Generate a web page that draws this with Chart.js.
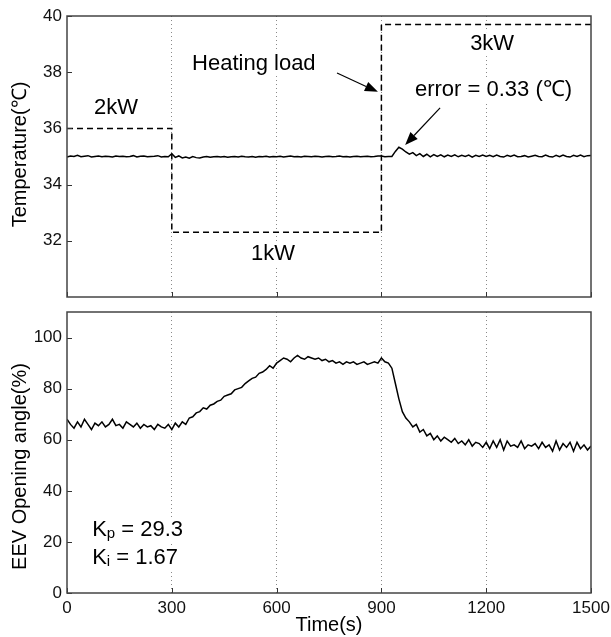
<!DOCTYPE html>
<html>
<head>
<meta charset="utf-8">
<script src="https://cdn.jsdelivr.net/npm/chart.js@4.4.0/dist/chart.umd.min.js"></script>
<style>
  html, body { margin: 0; padding: 0; background: #fff; }
  #wrap { position: relative; width: 611px; height: 637px; }
  #topChart { position: absolute; left: 0; top: 0; }
  #bottomChart { position: absolute; left: 0; top: 305px; }
</style>
</head>
<body>
<div id="wrap">
  <canvas id="topChart" width="611" height="305"></canvas>
  <canvas id="bottomChart" width="611" height="332"></canvas>
</div>
<script>
// sampled every 10 s, t = 0 ... 1500
const sampleStep = 10;

const tempValues = [
  34.98, 35.02, 35.0, 35.04, 34.99, 35.01, 35.03, 34.98, 35.0, 35.02,
  34.99, 35.01, 35.0, 34.98, 35.02, 35.0, 35.01, 34.99, 35.0, 35.03,
  34.98, 35.01, 35.02, 34.99, 35.0, 35.01, 35.03, 34.98, 35.0, 34.99,
  35.1,
  34.97, 35.02, 34.95, 34.98, 34.94, 35.0, 34.96, 34.95, 34.98, 35.0,
  34.97, 34.99, 35.0, 34.98, 35.0, 34.97, 34.99, 35.0, 34.98, 35.01,
  34.99, 34.98, 35.0, 34.97, 35.0, 34.99, 35.01, 34.98, 35.0,
  34.99, 35.01, 34.98, 35.0, 35.02, 34.99, 35.0, 34.98, 35.01, 35.0,
  34.99, 35.01, 35.0, 34.98, 35.0, 35.01, 34.99, 35.0, 35.02, 34.99,
  35.0, 34.98, 35.0, 35.01, 34.99, 35.0, 35.01, 34.99, 35.0, 35.02,
  35.02, 34.99, 35.0, 35.0, 35.18, 35.33, 35.26, 35.16, 35.08, 35.14,
  35.03, 35.1, 35.0, 35.08, 34.99, 35.07, 35.0, 35.06, 34.99, 35.05,
  35.0, 35.06, 34.99, 35.04, 35.0, 35.05, 34.98, 35.04, 35.0, 35.05,
  35.0, 35.04, 34.99, 35.05, 35.0, 34.98, 35.04, 35.0, 35.05, 34.99,
  35.0, 35.03, 34.98, 35.01, 35.04, 35.0, 34.99, 35.05, 35.0, 34.98,
  35.04, 34.99, 35.05, 35.0, 34.98, 35.04, 35.0, 35.05, 34.99, 35.03,
  35.04
];

const eevValues = [
  68, 66, 64.5, 67, 65, 68, 66, 64, 66.5, 65.5,
  67, 65, 66, 68, 65.5, 66, 64.5, 67, 66, 65,
  66.5, 64.5, 66, 65, 65.5, 64, 66, 65, 64.5, 66,
  64,
  66.5, 65, 67, 66, 68.5, 69, 70.5, 71, 72.5, 72,
  73.5, 74, 75, 75.5, 77, 77.5, 78, 79.5, 80, 80.5,
  82, 83, 84, 84.5, 86, 86.5, 87.5, 89, 88, 90,
  91, 92, 91.5, 90.5, 92, 93, 92, 91.5, 92.5, 92,
  91.5, 92, 91, 91.5, 90.5, 91, 90, 90.5, 89.5, 90.5,
  90, 90.5, 89.5, 90, 90.5, 89.5, 90, 90.5, 90, 92,
  90.5, 90, 88, 82, 76, 71, 68.5, 67, 65, 66,
  63, 64, 61.5, 62.5, 60, 61.5, 59.5, 61, 60, 59,
  60.5, 58.5, 59.5, 58, 60, 57.5, 59, 58.5, 57, 59,
  56.5, 59.5, 57, 60, 56, 59.5, 57.5, 58, 57, 59.5,
  56.5, 58, 57.5, 58.5, 56.5, 59, 57, 58, 55.5, 59.5,
  56, 58.5, 57, 59, 55.5, 59, 56.5, 58, 56, 57.5
];

// heating load step (drawn on the temperature axis)
const loadTimes = [0, 300, 300, 900, 900, 1500];
const loadValues = [36, 36, 32.3, 32.3, 39.7, 39.7];

const timeTicks = [0, 300, 600, 900, 1200, 1500];
const tempTicks = [32, 34, 36, 38, 40];
const eevTicks = [0, 20, 40, 60, 80, 100];

const FONT = "'Liberation Sans', Arial, sans-serif";

const times = eevValues.map((_, i) => i * sampleStep);
const toXY = (xs, ys) => xs.map((x, i) => ({ x: x, y: ys[i] }));

function setTicks(list) {
  return axis => { axis.ticks = list.map(v => ({ value: v })); };
}

function gridColor(c) {
  const v = c.tick && c.tick.value;
  return (v > 0 && v < 1500) ? '#8a8a8a' : 'rgba(0,0,0,0)';
}

function textBox(ctx, text, x, y, align, size) {
  ctx.font = size + 'px ' + FONT;
  const w = ctx.measureText(text).width;
  const x0 = align === 'center' ? x - w / 2 : x;
  ctx.fillStyle = '#fff';
  ctx.fillRect(x0 - 2, y - size / 2 - 1, w + 4, size + 2);
  ctx.fillStyle = '#000';
  ctx.textAlign = 'left';
  ctx.textBaseline = 'middle';
  ctx.fillText(text, x0, y);
  return w;
}

function arrow(ctx, x1, y1, x2, y2) {
  const a = Math.atan2(y2 - y1, x2 - x1);
  const len = 13, half = 5;
  ctx.strokeStyle = '#000';
  ctx.lineWidth = 1.2;
  ctx.beginPath();
  ctx.moveTo(x1, y1);
  ctx.lineTo(x2 - len * Math.cos(a), y2 - len * Math.sin(a));
  ctx.stroke();
  ctx.fillStyle = '#000';
  ctx.beginPath();
  ctx.moveTo(x2, y2);
  ctx.lineTo(x2 - len * Math.cos(a) + half * Math.sin(a), y2 - len * Math.sin(a) - half * Math.cos(a));
  ctx.lineTo(x2 - len * Math.cos(a) - half * Math.sin(a), y2 - len * Math.sin(a) + half * Math.cos(a));
  ctx.closePath();
  ctx.fill();
}

// box frame, inward tick marks and the rotated y title
function frameAndTitle(title, titleShift) {
  return {
    id: 'frame',
    afterDraw(chart) {
      const { ctx, chartArea: a, scales } = chart;
      ctx.save();
      ctx.strokeStyle = '#333';
      ctx.lineWidth = 1;
      scales.y.ticks.forEach(t => {
        const py = Math.round(scales.y.getPixelForValue(t.value)) + 0.5;
        ctx.beginPath(); ctx.moveTo(a.left, py); ctx.lineTo(a.left + 5, py); ctx.stroke();
      });
      scales.x.ticks.forEach(t => {
        const px = Math.round(scales.x.getPixelForValue(t.value)) + 0.5;
        ctx.beginPath(); ctx.moveTo(px, a.bottom); ctx.lineTo(px, a.bottom - 5); ctx.stroke();
      });
      ctx.strokeStyle = '#444';
      ctx.lineWidth = 1.5;
      ctx.strokeRect(a.left, a.top, a.right - a.left, a.bottom - a.top);

      ctx.translate(20, (a.top + a.bottom) / 2 + titleShift);
      ctx.rotate(-Math.PI / 2);
      ctx.font = '20px ' + FONT;
      ctx.fillStyle = '#000';
      ctx.textAlign = 'center';
      ctx.textBaseline = 'middle';
      ctx.fillText(title, 0, 0);
      ctx.restore();
    }
  };
}

const topNotes = {
  id: 'topNotes',
  beforeDatasetsDraw(chart) {
    const { ctx, scales: { x, y } } = chart;
    ctx.save();
    textBox(ctx, '2kW', x.getPixelForValue(140), y.getPixelForValue(36.73), 'center', 22);
    textBox(ctx, 'Heating load', x.getPixelForValue(358), y.getPixelForValue(38.29), 'left', 22);
    textBox(ctx, '3kW', x.getPixelForValue(1154), y.getPixelForValue(39.0), 'left', 22);
    textBox(ctx, 'error = 0.33 (\u2103)', x.getPixelForValue(996), y.getPixelForValue(37.37), 'left', 22);
    textBox(ctx, '1kW', x.getPixelForValue(590), y.getPixelForValue(31.53), 'center', 22);
    ctx.restore();
  },
  afterDatasetsDraw(chart) {
    const { ctx, scales: { x, y } } = chart;
    ctx.save();
    arrow(ctx, x.getPixelForValue(773), y.getPixelForValue(37.97), x.getPixelForValue(890), y.getPixelForValue(37.3));
    arrow(ctx, x.getPixelForValue(1068), y.getPixelForValue(36.73), x.getPixelForValue(968), y.getPixelForValue(35.41));
    ctx.restore();
  }
};

function gainLine(ctx, sub, rest, x0, yc) {
  ctx.font = '22px ' + FONT;
  ctx.textBaseline = 'middle';
  ctx.textAlign = 'left';
  const wK = ctx.measureText('K').width;
  ctx.font = '15px ' + FONT;
  const wS = ctx.measureText(sub).width;
  ctx.font = '22px ' + FONT;
  const wR = ctx.measureText(rest).width;
  ctx.fillStyle = '#fff';
  ctx.fillRect(x0 - 2, yc - 12, wK + wS + wR + 4, 24);
  ctx.fillStyle = '#000';
  ctx.fillText('K', x0, yc);
  ctx.font = '15px ' + FONT;
  ctx.fillText(sub, x0 + wK, yc + 4);
  ctx.font = '22px ' + FONT;
  ctx.fillText(rest, x0 + wK + wS, yc);
}

const bottomNotes = {
  id: 'bottomNotes',
  beforeDatasetsDraw(chart) {
    const { ctx, scales: { x, y }, chartArea: a } = chart;
    ctx.save();
    gainLine(ctx, 'p', ' = 29.3', x.getPixelForValue(72), y.getPixelForValue(24.7));
    gainLine(ctx, 'i', ' = 1.67', x.getPixelForValue(72), y.getPixelForValue(13.7));
    ctx.font = '20px ' + FONT;
    ctx.fillStyle = '#000';
    ctx.textAlign = 'center';
    ctx.textBaseline = 'middle';
    ctx.fillText('Time(s)', (a.left + a.right) / 2, 320);
    ctx.restore();
  }
};

const tickFont = { family: FONT, size: 17 };

function xScale(showLabels, height) {
  return {
    type: 'linear', min: 0, max: 1500,
    afterBuildTicks: setTicks(timeTicks),
    ticks: { display: showLabels, font: tickFont, color: '#111', padding: 5, maxRotation: 0,
             callback: v => String(v) },
    grid: { color: gridColor, lineWidth: 1, drawTicks: false },
    border: { display: false, dash: [1, 3] },
    afterFit: s => { s.height = height; s.paddingLeft = 0; s.paddingRight = 0; }
  };
}

function yScale(min, max, list) {
  return {
    min: min, max: max,
    afterBuildTicks: setTicks(list),
    ticks: { font: tickFont, color: '#111', padding: 5, callback: v => String(v) },
    grid: { display: false, drawTicks: false },
    border: { display: false },
    afterFit: s => { s.width = 67; s.paddingTop = 0; s.paddingBottom = 0; }
  };
}

const lineStyle = { borderColor: '#000', borderWidth: 1.5, pointRadius: 0, tension: 0, fill: false };

new Chart(document.getElementById('topChart'), {
  type: 'line',
  data: {
    datasets: [
      Object.assign({ label: 'Heating load', data: toXY(loadTimes, loadValues), borderDash: [6, 4] }, lineStyle),
      Object.assign({ label: 'Temperature', data: toXY(times, tempValues) }, lineStyle)
    ]
  },
  options: {
    responsive: false,
    animation: false,
    layout: { padding: { top: 16, right: 20, left: 0, bottom: 0 } },
    plugins: { legend: { display: false }, tooltip: { enabled: false } },
    scales: { x: xScale(false, 8), y: yScale(30, 40, tempTicks) }
  },
  plugins: [topNotes, frameAndTitle('Temperature(\u2103)', -2)]
});

new Chart(document.getElementById('bottomChart'), {
  type: 'line',
  data: {
    datasets: [
      Object.assign({ label: 'EEV Opening angle', data: toXY(times, eevValues) }, lineStyle)
    ]
  },
  options: {
    responsive: false,
    animation: false,
    layout: { padding: { top: 7, right: 20, left: 0, bottom: 0 } },
    plugins: { legend: { display: false }, tooltip: { enabled: false } },
    scales: { x: xScale(true, 44), y: yScale(0, 110, eevTicks) }
  },
  plugins: [bottomNotes, frameAndTitle('EEV Opening angle(%)', 14)]
});
</script>
</body>
</html>
